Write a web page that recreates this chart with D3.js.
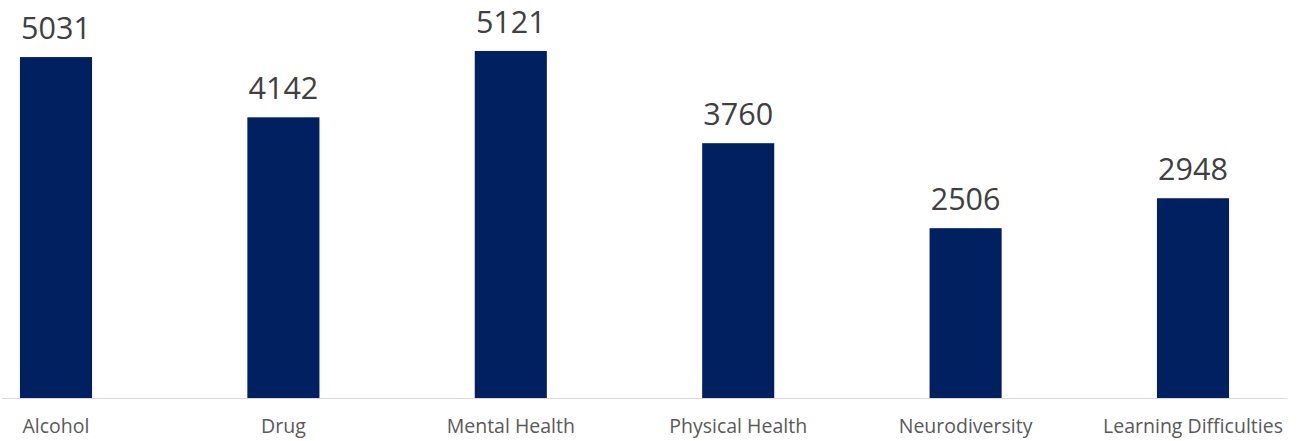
<!DOCTYPE html>
<html>
<head>
<meta charset="utf-8">
<script src="https://cdn.jsdelivr.net/npm/d3@7"></script>
<style>
  html, body { margin: 0; padding: 0; background: #ffffff; }
  svg { display: block; }
</style>
</head>
<body>
<svg id="chart" width="1301" height="441"></svg>
<script>
// Cases by category
const categories = ["Alcohol", "Drug", "Mental Health", "Physical Health", "Neurodiversity", "Learning Difficulties"];
const values = [5031, 4142, 5121, 3760, 2506, 2948];

const width = 1301, height = 441;
const baseY = 398;
const svg = d3.select("#chart");

const x = d3.scaleBand()
  .domain(categories)
  .range([-57.7, 1306.7])
  .paddingInner(0.683)
  .paddingOuter(0.3415);

const y = d3.scaleLinear()
  .domain([0, 6000])
  .range([baseY, -8.6]);

// bars
svg.append("g")
  .selectAll("rect")
  .data(categories)
  .join("rect")
  .attr("x", d => x(d))
  .attr("y", (d, i) => y(values[i]))
  .attr("width", x.bandwidth())
  .attr("height", (d, i) => baseY - y(values[i]))
  .attr("fill", "#002060");

// baseline
svg.append("line")
  .attr("x1", 2).attr("x2", 1287)
  .attr("y1", baseY + 0.5).attr("y2", baseY + 0.5)
  .attr("stroke", "#d9d9d9")
  .attr("stroke-width", 1);

// value labels
svg.append("g")
  .selectAll("text")
  .data(categories)
  .join("text")
  .attr("x", d => x(d) + x.bandwidth() / 2)
  .attr("y", (d, i) => y(values[i]) - 18)
  .attr("text-anchor", "middle")
  .attr("font-family", "'Open Sans', sans-serif")
  .attr("font-size", 30.5)
  .attr("fill", "#404040")
  .text((d, i) => values[i]);

// category labels, kept inside the right edge
const cat = svg.append("g")
  .selectAll("text")
  .data(categories)
  .join("text")
  .attr("y", 433)
  .attr("text-anchor", "middle")
  .attr("font-family", "'Open Sans', sans-serif")
  .attr("font-size", 19.5)
  .attr("fill", "#595959")
  .text(d => d);

cat.each(function(d) {
  const w = this.getComputedTextLength();
  let cx = x(d) + x.bandwidth() / 2;
  if (cx + w / 2 > 1286) cx = 1286 - w / 2;
  d3.select(this).attr("x", cx);
});
</script>
</body>
</html>
